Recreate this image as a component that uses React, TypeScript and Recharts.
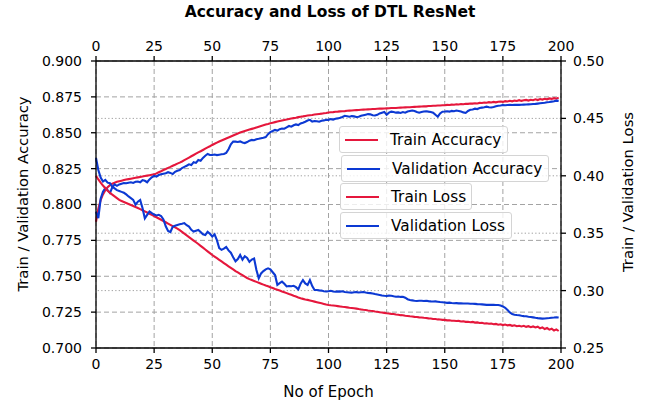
import React from 'react';
import {
  LineChart,
  Line,
  XAxis,
  YAxis,
  CartesianGrid,
  ReferenceLine,
  Legend
} from 'recharts';

const epochs = Array.from({ length: 200 }, (_, i) => i);

const trainAcc = [
  0.7880, 0.7970, 0.8030, 0.8070, 0.8100, 0.8120, 0.8135, 0.8145, 0.8152, 0.8158,
  0.8162, 0.8166, 0.8170, 0.8174, 0.8177, 0.8180, 0.8183, 0.8186, 0.8189, 0.8192,
  0.8195, 0.8198, 0.8201, 0.8204, 0.8207, 0.8210, 0.8217, 0.8225, 0.8232, 0.8240,
  0.8247, 0.8255, 0.8262, 0.8270, 0.8277, 0.8285, 0.8292, 0.8300, 0.8309, 0.8318,
  0.8327, 0.8336, 0.8345, 0.8354, 0.8363, 0.8371, 0.8380, 0.8389, 0.8398, 0.8406,
  0.8415, 0.8423, 0.8431, 0.8439, 0.8446, 0.8453, 0.8460, 0.8467, 0.8474, 0.8481,
  0.8488, 0.8495, 0.8501, 0.8507, 0.8512, 0.8517, 0.8522, 0.8527, 0.8532, 0.8537,
  0.8542, 0.8547, 0.8552, 0.8557, 0.8561, 0.8566, 0.8570, 0.8574, 0.8578, 0.8582,
  0.8586, 0.8589, 0.8592, 0.8596, 0.8599, 0.8602, 0.8605, 0.8609, 0.8612, 0.8614,
  0.8617, 0.8620, 0.8622, 0.8624, 0.8627, 0.8629, 0.8631, 0.8633, 0.8636, 0.8638,
  0.8641, 0.8643, 0.8644, 0.8646, 0.8647, 0.8649, 0.8650, 0.8651, 0.8653, 0.8654,
  0.8655, 0.8657, 0.8658, 0.8659, 0.8660, 0.8661, 0.8662, 0.8663, 0.8664, 0.8665,
  0.8666, 0.8667, 0.8668, 0.8668, 0.8669, 0.8670, 0.8671, 0.8672, 0.8673, 0.8673,
  0.8674, 0.8675, 0.8676, 0.8677, 0.8678, 0.8678, 0.8679, 0.8680, 0.8681, 0.8682,
  0.8683, 0.8684, 0.8684, 0.8686, 0.8686, 0.8688, 0.8688, 0.8690, 0.8690, 0.8692,
  0.8692, 0.8694, 0.8693, 0.8696, 0.8695, 0.8698, 0.8697, 0.8700, 0.8699, 0.8702,
  0.8701, 0.8704, 0.8703, 0.8706, 0.8704, 0.8708, 0.8707, 0.8711, 0.8709, 0.8713,
  0.8711, 0.8715, 0.8712, 0.8716, 0.8718, 0.8715, 0.8720, 0.8718, 0.8723, 0.8719,
  0.8724, 0.8721, 0.8727, 0.8722, 0.8726, 0.8729, 0.8724, 0.8730, 0.8727, 0.8733,
  0.8728, 0.8735, 0.8731, 0.8737, 0.8733, 0.8739, 0.8736, 0.8741, 0.8738, 0.8745
];

const valAcc = [
  0.7950, 0.7905, 0.8040, 0.8090, 0.8115, 0.8100, 0.8080, 0.8120, 0.8140, 0.8130,
  0.8140, 0.8145, 0.8150, 0.8148, 0.8152, 0.8155, 0.8150, 0.8158, 0.8160, 0.8155,
  0.8170, 0.8165, 0.8155, 0.8175, 0.8190, 0.8200, 0.8195, 0.8205, 0.8210, 0.8215,
  0.8218, 0.8225, 0.8220, 0.8212, 0.8228, 0.8235, 0.8240, 0.8254, 0.8262, 0.8270,
  0.8280, 0.8275, 0.8295, 0.8290, 0.8310, 0.8305, 0.8325, 0.8340, 0.8352, 0.8345,
  0.8345, 0.8348, 0.8344, 0.8347, 0.8350, 0.8352, 0.8360, 0.8385, 0.8420, 0.8438,
  0.8438, 0.8436, 0.8440, 0.8432, 0.8428, 0.8435, 0.8445, 0.8450, 0.8448, 0.8455,
  0.8458, 0.8462, 0.8465, 0.8470, 0.8490, 0.8505, 0.8512, 0.8520, 0.8515, 0.8525,
  0.8530, 0.8528, 0.8538, 0.8547, 0.8542, 0.8552, 0.8558, 0.8554, 0.8565, 0.8570,
  0.8577, 0.8585, 0.8590, 0.8578, 0.8582, 0.8580, 0.8577, 0.8584, 0.8586, 0.8590,
  0.8590, 0.8595, 0.8592, 0.8598, 0.8600, 0.8604, 0.8610, 0.8618, 0.8615, 0.8612,
  0.8616, 0.8614, 0.8610, 0.8612, 0.8618, 0.8622, 0.8626, 0.8630, 0.8628, 0.8622,
  0.8620, 0.8625, 0.8635, 0.8640, 0.8645, 0.8625, 0.8640, 0.8647, 0.8644, 0.8640,
  0.8642, 0.8638, 0.8644, 0.8640, 0.8648, 0.8652, 0.8655, 0.8652, 0.8645, 0.8640,
  0.8645, 0.8648, 0.8650, 0.8647, 0.8645, 0.8640, 0.8625, 0.8612, 0.8635, 0.8647,
  0.8648, 0.8650, 0.8647, 0.8652, 0.8650, 0.8655, 0.8652, 0.8648, 0.8642, 0.8638,
  0.8652, 0.8660, 0.8662, 0.8668, 0.8665, 0.8672, 0.8675, 0.8678, 0.8682, 0.8678,
  0.8676, 0.8680, 0.8685, 0.8688, 0.8690, 0.8693, 0.8692, 0.8693, 0.8694, 0.8693,
  0.8694, 0.8695, 0.8694, 0.8695, 0.8696, 0.8697, 0.8698, 0.8699, 0.8700, 0.8701,
  0.8703, 0.8705, 0.8707, 0.8709, 0.8712, 0.8714, 0.8717, 0.8720, 0.8724, 0.8722
];

const trainLoss = [
  0.4000, 0.3968, 0.3940, 0.3915, 0.3892, 0.3870, 0.3852, 0.3836, 0.3821, 0.3806,
  0.3790, 0.3781, 0.3772, 0.3763, 0.3754, 0.3745, 0.3737, 0.3728, 0.3719, 0.3710,
  0.3700, 0.3690, 0.3680, 0.3670, 0.3660, 0.3650, 0.3639, 0.3628, 0.3617, 0.3606,
  0.3595, 0.3584, 0.3573, 0.3562, 0.3551, 0.3540, 0.3526, 0.3511, 0.3496, 0.3481,
  0.3466, 0.3451, 0.3436, 0.3421, 0.3406, 0.3390, 0.3374, 0.3358, 0.3342, 0.3326,
  0.3310, 0.3296, 0.3282, 0.3268, 0.3254, 0.3240, 0.3226, 0.3212, 0.3198, 0.3184,
  0.3170, 0.3158, 0.3146, 0.3134, 0.3122, 0.3110, 0.3100, 0.3092, 0.3084, 0.3076,
  0.3068, 0.3060, 0.3052, 0.3044, 0.3037, 0.3029, 0.3022, 0.3014, 0.3007, 0.3000,
  0.2992, 0.2985, 0.2978, 0.2970, 0.2963, 0.2955, 0.2948, 0.2940, 0.2933, 0.2928,
  0.2923, 0.2919, 0.2914, 0.2909, 0.2904, 0.2899, 0.2894, 0.2889, 0.2884, 0.2879,
  0.2875, 0.2872, 0.2870, 0.2868, 0.2865, 0.2862, 0.2859, 0.2857, 0.2854, 0.2851,
  0.2849, 0.2846, 0.2843, 0.2839, 0.2836, 0.2833, 0.2831, 0.2827, 0.2824, 0.2822,
  0.2818, 0.2816, 0.2812, 0.2809, 0.2806, 0.2803, 0.2801, 0.2797, 0.2796, 0.2792,
  0.2790, 0.2786, 0.2785, 0.2781, 0.2779, 0.2776, 0.2775, 0.2771, 0.2770, 0.2767,
  0.2766, 0.2763, 0.2762, 0.2758, 0.2757, 0.2753, 0.2752, 0.2749, 0.2748, 0.2745,
  0.2745, 0.2741, 0.2742, 0.2738, 0.2738, 0.2735, 0.2736, 0.2731, 0.2733, 0.2728,
  0.2729, 0.2724, 0.2727, 0.2721, 0.2723, 0.2718, 0.2720, 0.2714, 0.2716, 0.2711,
  0.2713, 0.2707, 0.2710, 0.2703, 0.2707, 0.2700, 0.2704, 0.2697, 0.2701, 0.2693,
  0.2698, 0.2690, 0.2694, 0.2688, 0.2693, 0.2684, 0.2690, 0.2681, 0.2688, 0.2679,
  0.2686, 0.2672, 0.2680, 0.2665, 0.2674, 0.2660, 0.2668, 0.2652, 0.2662, 0.2648
];

const valLoss = [
  0.4155, 0.4050, 0.3985, 0.3950, 0.3965, 0.3940, 0.3935, 0.3905, 0.3890, 0.3875,
  0.3868, 0.3860, 0.3852, 0.3838, 0.3820, 0.3805, 0.3790, 0.3748, 0.3775, 0.3790,
  0.3720, 0.3630, 0.3660, 0.3690, 0.3675, 0.3662, 0.3655, 0.3660, 0.3650, 0.3620,
  0.3560, 0.3520, 0.3510, 0.3555, 0.3565, 0.3572, 0.3578, 0.3582, 0.3588, 0.3570,
  0.3558, 0.3530, 0.3515, 0.3522, 0.3528, 0.3510, 0.3490, 0.3484, 0.3512, 0.3495,
  0.3472, 0.3490, 0.3440, 0.3370, 0.3355, 0.3365, 0.3380, 0.3350, 0.3330, 0.3290,
  0.3255, 0.3275, 0.3310, 0.3270, 0.3300, 0.3285, 0.3250, 0.3270, 0.3280, 0.3180,
  0.3107, 0.3150, 0.3170, 0.3185, 0.3194, 0.3185, 0.3160, 0.3136, 0.3050, 0.3065,
  0.3078, 0.3060, 0.3036, 0.3040, 0.3038, 0.3042, 0.3030, 0.3011, 0.3060, 0.3092,
  0.3063, 0.3050, 0.3092, 0.3040, 0.3005, 0.3005, 0.3002, 0.3000, 0.2995, 0.2992,
  0.2995, 0.2998, 0.2992, 0.2990, 0.2993, 0.2991, 0.2994, 0.2988, 0.2986, 0.2984,
  0.2982, 0.2985, 0.2987, 0.2984, 0.2986, 0.2988, 0.2983, 0.2980, 0.2978, 0.2975,
  0.2970, 0.2966, 0.2962, 0.2958, 0.2955, 0.2953, 0.2956, 0.2955, 0.2950, 0.2947,
  0.2948, 0.2945, 0.2946, 0.2938, 0.2925, 0.2918, 0.2915, 0.2912, 0.2910, 0.2912,
  0.2911, 0.2910, 0.2911, 0.2908, 0.2906, 0.2905, 0.2906, 0.2903, 0.2900, 0.2898,
  0.2896, 0.2893, 0.2895, 0.2892, 0.2890, 0.2891, 0.2889, 0.2890, 0.2888, 0.2887,
  0.2888, 0.2886, 0.2885, 0.2884, 0.2882, 0.2881, 0.2880, 0.2878, 0.2876, 0.2877,
  0.2876, 0.2877, 0.2875, 0.2874, 0.2870, 0.2862, 0.2850, 0.2830, 0.2810, 0.2795,
  0.2790, 0.2787, 0.2785, 0.2781, 0.2778, 0.2776, 0.2772, 0.2770, 0.2767, 0.2763,
  0.2760, 0.2758, 0.2756, 0.2757, 0.2759, 0.2761, 0.2764, 0.2765, 0.2768, 0.2766
];

const epochTicks = [0, 25, 50, 75, 100, 125, 150, 175, 200];
const accTicks = [0.7, 0.725, 0.75, 0.775, 0.8, 0.825, 0.85, 0.875, 0.9];
const lossTicks = [0.25, 0.3, 0.35, 0.4, 0.45, 0.5];
const lossGrid = [0.3, 0.35, 0.4, 0.45];

const seriesNames = ['Train Accuracy', 'Validation Accuracy', 'Train Loss', 'Validation Loss'];

const RED = '#e5173c';
const BLUE = '#0c39d3';
const FONT = '"DejaVu Sans", sans-serif';

const data = epochs.map((e, i) => ({
  epoch: e,
  trainAcc: trainAcc[i],
  valAcc: valAcc[i],
  trainLoss: trainLoss[i],
  valLoss: valLoss[i]
}));

// matplotlib-like legend: one small box per series
const legendBoxes = [
  { left: 0, top: 0, width: 169, height: 27 },
  { left: 2, top: 29, width: 208, height: 27 },
  { left: 1, top: 57, width: 132, height: 27 },
  { left: 1, top: 86, width: 172, height: 27 }
];

const renderLegend = (props: any) => {
  const payload = [...(props.payload || [])].sort(
    (a: any, b: any) => seriesNames.indexOf(a.value) - seriesNames.indexOf(b.value)
  );
  return (
    <div style={{ position: 'relative', width: 220, height: 115 }}>
      {payload.map((entry: any, i: number) => {
        const b = legendBoxes[i];
        return (
          <div
            key={entry.value}
            style={{
              position: 'absolute',
              left: b.left,
              top: b.top,
              width: b.width,
              height: b.height,
              boxSizing: 'border-box',
              border: '1px solid #d4d4d4',
              borderRadius: 3,
              background: 'rgba(255,255,255,0.8)',
              display: 'flex',
              alignItems: 'center',
              fontFamily: FONT,
              fontSize: 15.3,
              color: '#000'
            }}
          >
            <div style={{ width: 33, height: 2, background: entry.color, marginLeft: 5, marginRight: 12 }} />
            <span>{entry.value}</span>
          </div>
        );
      })}
    </div>
  );
};

const tickStyle = { fill: '#000', fontSize: 14, fontFamily: FONT };
const axisStroke = { stroke: '#000', strokeWidth: 1.3 };

export default function App() {
  return (
    <div style={{ position: 'absolute', left: 0, top: 0, width: 650, height: 405, background: '#fff' }}>
      <div
        style={{
          position: 'absolute',
          left: 0,
          top: 3,
          width: 660,
          textAlign: 'center',
          fontFamily: FONT,
          fontWeight: 'bold',
          fontSize: 15.5
        }}
      >
        Accuracy and Loss of DTL ResNet
      </div>
      <LineChart
        width={650}
        height={405}
        data={data}
        margin={{ top: 0, right: 0, bottom: 0, left: 0 }}
      >
        <CartesianGrid stroke="#a3a3a3" strokeDasharray="5 3" strokeWidth={1} />
        {lossGrid.map((v) => (
          <ReferenceLine
            key={v}
            y={v}
            yAxisId="right"
            stroke="#a3a3a3"
            strokeDasharray="1.3 2.2"
            strokeWidth={1}
          />
        ))}
        <XAxis
          dataKey="epoch"
          type="number"
          domain={[0, 200]}
          ticks={epochTicks}
          height={57}
          tick={tickStyle}
          tickSize={5}
          tickMargin={6}
          axisLine={axisStroke}
          tickLine={axisStroke}
        />
        <XAxis
          xAxisId="top"
          orientation="top"
          dataKey="epoch"
          type="number"
          domain={[0, 200]}
          ticks={epochTicks}
          height={61}
          tick={tickStyle}
          tickSize={5}
          tickMargin={5}
          axisLine={axisStroke}
          tickLine={axisStroke}
        />
        <YAxis
          type="number"
          domain={[0.7, 0.9]}
          ticks={accTicks}
          width={96}
          tick={tickStyle}
          tickSize={5}
          tickMargin={9}
          tickFormatter={(v: number) => v.toFixed(3)}
          axisLine={axisStroke}
          tickLine={axisStroke}
        />
        <YAxis
          yAxisId="right"
          orientation="right"
          type="number"
          domain={[0.25, 0.5]}
          ticks={lossTicks}
          width={89}
          tick={tickStyle}
          tickSize={5}
          tickMargin={7}
          tickFormatter={(v: number) => v.toFixed(2)}
          axisLine={axisStroke}
          tickLine={axisStroke}
        />
        <Line
          name={seriesNames[0]}
          dataKey="trainAcc"
          stroke={RED}
          strokeWidth={2.1}
          dot={false}
          type="linear"
          isAnimationActive={false}
        />
        <Line
          name={seriesNames[1]}
          dataKey="valAcc"
          stroke={BLUE}
          strokeWidth={2.1}
          dot={false}
          type="linear"
          isAnimationActive={false}
        />
        <Line
          name={seriesNames[2]}
          dataKey="trainLoss"
          xAxisId="top"
          yAxisId="right"
          stroke={RED}
          strokeWidth={2.1}
          dot={false}
          type="linear"
          isAnimationActive={false}
        />
        <Line
          name={seriesNames[3]}
          dataKey="valLoss"
          xAxisId="top"
          yAxisId="right"
          stroke={BLUE}
          strokeWidth={2.1}
          dot={false}
          type="linear"
          isAnimationActive={false}
        />
        <Legend
          layout="vertical"
          align="center"
          verticalAlign="middle"
          content={renderLegend}
          wrapperStyle={{ left: 339, top: 126, width: 220, height: 115 }}
        />
      </LineChart>
      <div
        style={{
          position: 'absolute',
          left: 0,
          top: 383,
          width: 657,
          textAlign: 'center',
          fontFamily: FONT,
          fontSize: 15
        }}
      >
        No of Epoch
      </div>
      <div
        style={{
          position: 'absolute',
          left: 22,
          top: 194,
          transform: 'translate(-50%, -50%) rotate(-90deg)',
          whiteSpace: 'nowrap',
          fontFamily: FONT,
          fontSize: 14.8
        }}
      >
        Train / Validation Accuracy
      </div>
      <div
        style={{
          position: 'absolute',
          left: 627,
          top: 192,
          transform: 'translate(-50%, -50%) rotate(-90deg)',
          whiteSpace: 'nowrap',
          fontFamily: FONT,
          fontSize: 14.8
        }}
      >
        Train / Validation Loss
      </div>
    </div>
  );
}
